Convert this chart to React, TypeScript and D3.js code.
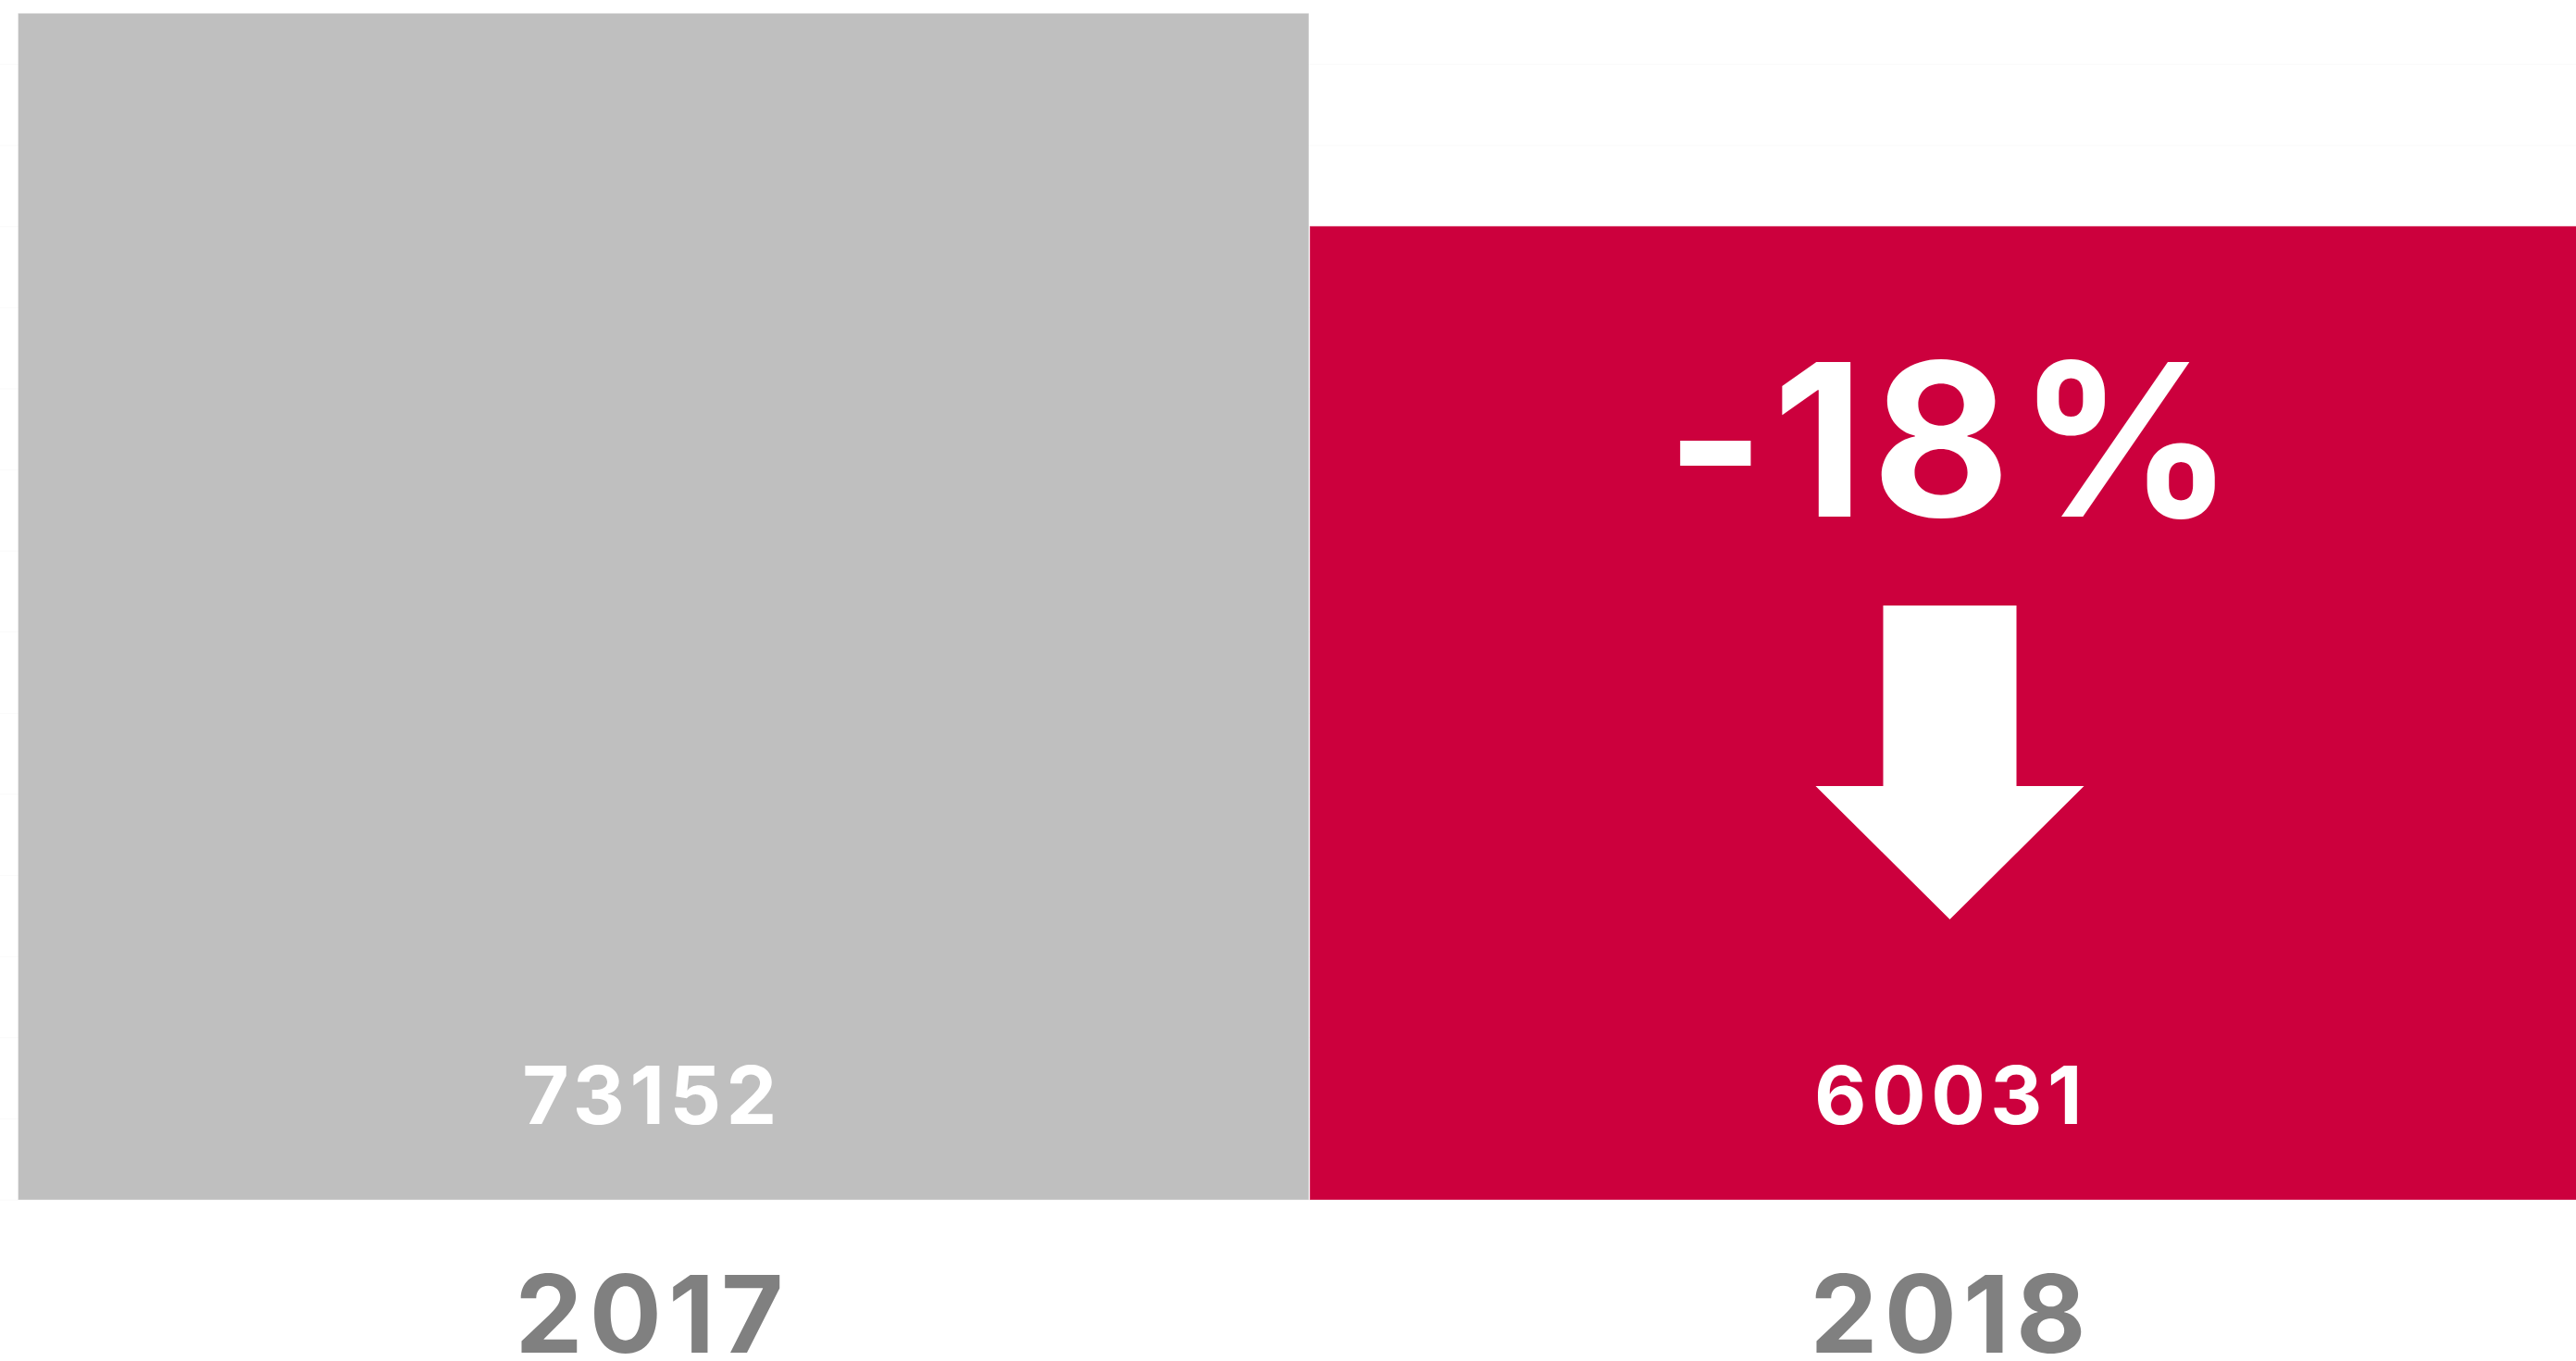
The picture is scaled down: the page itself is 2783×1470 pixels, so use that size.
import React, { useEffect } from "react";
import * as d3 from "d3";

const years = ["2017", "2018"];
const values = [73152, 60031];
const changeLabel = "-18%";
const gridTicks = [0, 5000, 10000, 15000, 20000, 25000, 30000, 35000, 40000, 45000, 50000, 55000, 60000, 65000, 70000];

const W = 2783;
const H = 1470;
const colors = ["#bfbfbf", "#cc003d"];

export default function App() {
  useEffect(() => {
    document.body.style.margin = "0";
    document.body.style.overflow = "hidden";
  }, []);

  const y = d3.scaleLinear().domain([0, 75000]).range([1296, 1296 - 75000 * (1281.7 / 73152)]);
  const xBar = d3.scaleBand<string>().domain(years).range([19.5, 2810.5]).paddingInner(0);
  const xLab = d3.scaleBand<string>().domain(years).range([0, 2806]);

  const font = "Inter, 'Open Sans', sans-serif";
  const cx2 = (xLab("2018") ?? 0) + xLab.bandwidth() / 2 + 2;

  const arrow = d3.path();
  const top = 654, neck = 849, tip = 993, shaftHalf = 72, headHalf = 145;
  arrow.moveTo(cx2 - shaftHalf, top);
  arrow.lineTo(cx2 + shaftHalf, top);
  arrow.lineTo(cx2 + shaftHalf, neck);
  arrow.lineTo(cx2 + headHalf, neck);
  arrow.lineTo(cx2, tip);
  arrow.lineTo(cx2 - headHalf, neck);
  arrow.lineTo(cx2 - shaftHalf, neck);
  arrow.closePath();

  return (
    <svg width={W} height={H} style={{ position: "absolute", left: 0, top: 0, background: "#fff" }}>
      <g>
        {gridTicks.map((t) => (
          <line key={t} x1={0} x2={W} y1={y(t)} y2={y(t)} stroke="#fafafa" strokeWidth={1} />
        ))}
      </g>
      <g>
        {years.map((yr, i) => (
          <rect
            key={yr}
            x={xBar(yr)}
            y={y(values[i])}
            width={xBar.bandwidth() - 1}
            height={y(0) - y(values[i])}
            fill={colors[i]}
            stroke="rgba(255,255,255,0.35)"
            strokeWidth={1}
          />
        ))}
      </g>
      <g>
        {years.map((yr, i) => (
          <text
            key={"v" + yr}
            x={(xLab(yr) ?? 0) + xLab.bandwidth() / 2 + 3}
            y={y(0) - 82}
            textAnchor="middle"
            fill="#ffffff"
            fontFamily={font}
            fontWeight={700}
            fontSize={87}
            letterSpacing={5.5}
          >
            {values[i]}
          </text>
        ))}
      </g>
      <g>
        {years.map((yr) => (
          <text
            key={"l" + yr}
            x={(xLab(yr) ?? 0) + xLab.bandwidth() / 2 + 3.5}
            y={1461}
            textAnchor="middle"
            fill="#808080"
            fontFamily={font}
            fontWeight={700}
            fontSize={116}
            letterSpacing={7}
          >
            {yr}
          </text>
        ))}
      </g>
      <text x={cx2 + 4} y={558} textAnchor="middle" fill="#ffffff" fontFamily={font} fontWeight={700} fontSize={230} letterSpacing={8}>
        {changeLabel}
      </text>
      <path d={arrow.toString()} fill="#ffffff" />
    </svg>
  );
}
